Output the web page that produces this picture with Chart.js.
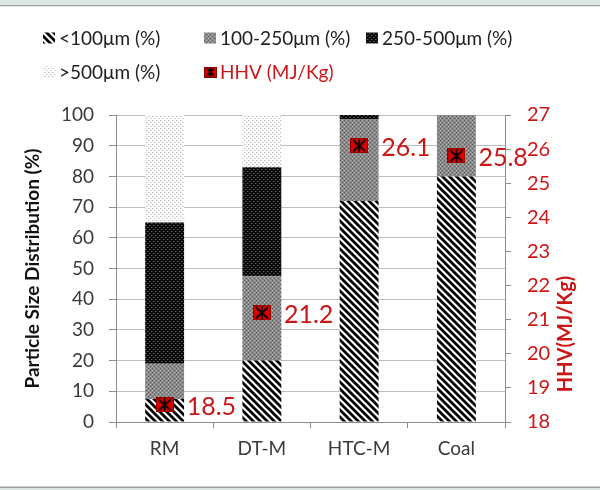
<!DOCTYPE html>
<html>
<head>
<meta charset="utf-8">
<script src="https://cdn.jsdelivr.net/npm/chart.js@4.4.1/dist/chart.umd.min.js"></script>
<style>
  html, body { margin: 0; padding: 0; background: #ffffff; }
  #wrap { width: 600px; height: 490px; }
</style>
</head>
<body>
<div id="wrap"><canvas id="chart" width="600" height="490"></canvas></div>
<script>
// Particle size distribution (stacked %) and higher heating value per sample
const categories = ['RM', 'DT-M', 'HTC-M', 'Coal'];
const below100 = [7.5, 20, 72, 80];
const from100to250 = [11.5, 27.5, 26.5, 20];
const from250to500 = [46, 35.5, 1.5, 0];
const above500 = [35, 17, 0, 0];
const hhv = [18.5, 21.2, 26.1, 25.8];

const seriesNames = ['<100\u03bcm (%)', '100-250\u03bcm (%)', '250-500\u03bcm (%)', '>500\u03bcm (%)', 'HHV (MJ/Kg)'];
const leftTicks = { min: 0, max: 100, step: 10 };
const rightTicks = { min: 18, max: 27, step: 1 };
const rightTitle = 'HHV(MJ/Kg)';

const FONT = 'Lato, Calibri, "Liberation Sans", sans-serif';
const RED = '#cc1616';
const TEXT = '#3a3a3a';

// ---- fill patterns ----
function tile(w, h, paint) {
  const c = document.createElement('canvas');
  c.width = w; c.height = h;
  paint(c.getContext('2d'));
  return c;
}
function makePattern(t) {
  return document.createElement('canvas').getContext('2d').createPattern(t, 'repeat');
}
const stripeTile = tile(7, 7, g => {
  g.fillStyle = '#ffffff'; g.fillRect(0, 0, 7, 7);
  g.strokeStyle = '#000000'; g.lineWidth = 2.8; g.lineCap = 'square';
  g.beginPath();
  g.moveTo(-1, -1); g.lineTo(8, 8);
  g.moveTo(-8, -1); g.lineTo(1, 8);
  g.moveTo(6, -1); g.lineTo(15, 8);
  g.stroke();
});
const midTile = tile(4, 4, g => {
  g.fillStyle = '#8a8a8a'; g.fillRect(0, 0, 4, 4);
  g.fillStyle = '#5c5c5c'; g.fillRect(0, 0, 1, 1); g.fillRect(2, 2, 1, 1);
  g.fillStyle = '#b4b4b4'; g.fillRect(2, 0, 1, 1); g.fillRect(0, 2, 1, 1);
});
const darkTile = tile(4, 4, g => {
  g.fillStyle = '#0c0c0c'; g.fillRect(0, 0, 4, 4);
  g.fillStyle = '#5e5e5e'; g.fillRect(1, 1, 1, 1); g.fillRect(3, 3, 1, 1);
  g.fillStyle = '#303030'; g.fillRect(2, 1, 1, 1); g.fillRect(0, 3, 1, 1);
});
const lightTile = tile(4, 4, g => {
  g.fillStyle = '#ffffff'; g.fillRect(0, 0, 4, 4);
  g.fillStyle = '#bcbcbc'; g.fillRect(0, 0, 1, 1); g.fillRect(2, 2, 1, 1);
  g.fillStyle = '#e2e2e2'; g.fillRect(1, 0, 1, 1); g.fillRect(3, 2, 1, 1);
});
const fills = [makePattern(stripeTile), makePattern(midTile), makePattern(darkTile), makePattern(lightTile)];

// HHV marker: red square with a black asterisk
function markerCanvas(w, h) {
  return tile(w, h, g => {
    g.fillStyle = '#dc0000'; g.fillRect(0, 0, w, h);
    g.strokeStyle = '#900000'; g.lineWidth = 1; g.strokeRect(0.5, 0.5, w - 1, h - 1);
    g.strokeStyle = '#000000'; g.lineWidth = 1.7;
    g.beginPath();
    g.moveTo(w / 2, 1); g.lineTo(w / 2, h - 1);
    g.moveTo(3, 2); g.lineTo(w - 3, h - 2);
    g.moveTo(w - 3, 2); g.lineTo(3, h - 2);
    g.stroke();
  });
}
const marker = markerCanvas(18, 15);
const legendMarker = markerCanvas(13, 11);

// ---- plugins ----
const frame = {
  id: 'frame',
  beforeDraw(chart) {
    const g = chart.ctx;
    g.save();
    g.fillStyle = '#dde5e2'; g.fillRect(0, 0, 600, 5);
    g.fillStyle = '#9aa3a0'; g.fillRect(0, 5, 600, 1.5);
    g.fillStyle = '#ffffff'; g.fillRect(0, 6.5, 600, 480);
    g.fillStyle = '#9aa3a0'; g.fillRect(0, 486.5, 600, 1.5);
    g.fillStyle = '#dde5e2'; g.fillRect(0, 488, 600, 2);
    g.restore();
  }
};

const legendGrid = {
  id: 'legendGrid',
  afterDraw(chart) {
    const g = chart.ctx;
    const cols = [43, 204, 366];
    const rows = [38, 72];
    g.save();
    g.font = '19px ' + FONT;
    g.textBaseline = 'middle';
    g.textAlign = 'left';
    chart.data.datasets.forEach((ds, i) => {
      const x = cols[i % 3], y = rows[Math.floor(i / 3)];
      if (ds.type === 'line') {
        g.drawImage(legendMarker, x, y - 5.5);
        g.fillStyle = RED;
      } else {
        g.fillStyle = ds.backgroundColor;
        g.fillRect(x, y - 5.5, 12, 11);
        g.fillStyle = '#1e1e1e';
      }
      g.fillText(ds.label, x + 16, y + 1);
    });
    g.restore();
  }
};

// right axis title, reading bottom-to-top
const rightAxisTitle = {
  id: 'rightAxisTitle',
  afterDraw(chart) {
    const g = chart.ctx;
    g.save();
    g.translate(566, 334);
    g.rotate(-Math.PI / 2);
    g.font = 'bold 20px ' + FONT;
    g.fillStyle = RED;
    g.textAlign = 'center';
    g.textBaseline = 'middle';
    g.fillText(rightTitle, 0, 0);
    g.restore();
  }
};

const valueLabels = {
  id: 'valueLabels',
  afterDatasetsDraw(chart) {
    const idx = chart.data.datasets.findIndex(d => d.type === 'line');
    const meta = chart.getDatasetMeta(idx);
    const g = chart.ctx;
    g.save();
    g.font = '25px ' + FONT;
    g.fillStyle = RED;
    g.textAlign = 'left';
    g.textBaseline = 'middle';
    meta.data.forEach((pt, i) => {
      g.fillText(chart.data.datasets[idx].data[i].toFixed(1), pt.x + 22, pt.y + 2);
    });
    g.restore();
  }
};

const barSets = [below100, from100to250, from250to500, above500].map((vals, i) => ({
  type: 'bar',
  label: seriesNames[i],
  data: vals,
  backgroundColor: fills[i],
  borderWidth: 0,
  yAxisID: 'y',
  stack: 'size',
  order: 1,
  categoryPercentage: 1,
  barPercentage: 0.4
}));

new Chart(document.getElementById('chart'), {
  data: {
    labels: categories,
    datasets: [
      ...barSets,
      {
        type: 'line',
        label: seriesNames[4],
        data: hhv,
        yAxisID: 'y1',
        showLine: false,
        pointStyle: marker,
        pointRadius: 9,
        order: 0
      }
    ]
  },
  options: {
    responsive: false,
    animation: false,
    events: [],
    layout: { padding: { left: 0, right: 0, top: 115, bottom: 28 } },
    plugins: { legend: { display: false }, tooltip: { enabled: false } },
    scales: {
      x: {
        stacked: true,
        offset: true,
        afterFit(s) { s.height = 40; },
        border: { color: '#8c8c8c', width: 1 },
        grid: { drawOnChartArea: false, drawTicks: true, tickLength: 6, offset: true, color: '#8c8c8c' },
        ticks: { color: TEXT, font: { family: FONT, size: 19 }, padding: 9 }
      },
      y: {
        position: 'left',
        stacked: true,
        min: leftTicks.min, max: leftTicks.max,
        afterFit(s) { s.width = 116; },
        border: { color: '#8c8c8c', width: 1 },
        grid: { color: '#bdbdbd', tickColor: '#8c8c8c', tickLength: 7, drawTicks: true },
        ticks: { stepSize: leftTicks.step, color: TEXT, font: { family: FONT, size: 19 }, padding: 15 },
        title: {
          display: true,
          text: 'Particle Size Distribution (%)',
          color: '#111111',
          font: { family: FONT, size: 19, weight: 'bold' },
          padding: { top: 21, bottom: 0 }
        }
      },
      y1: {
        position: 'right',
        min: rightTicks.min, max: rightTicks.max,
        afterFit(s) { s.width = 95; },
        border: { color: '#8c8c8c', width: 1 },
        grid: { drawOnChartArea: false, tickColor: '#8c8c8c', tickLength: 6, drawTicks: true },
        ticks: { stepSize: rightTicks.step, color: RED, font: { family: FONT, size: 20 }, padding: 16 }
      }
    }
  },
  plugins: [frame, legendGrid, rightAxisTitle, valueLabels]
});
</script>
</body>
</html>
